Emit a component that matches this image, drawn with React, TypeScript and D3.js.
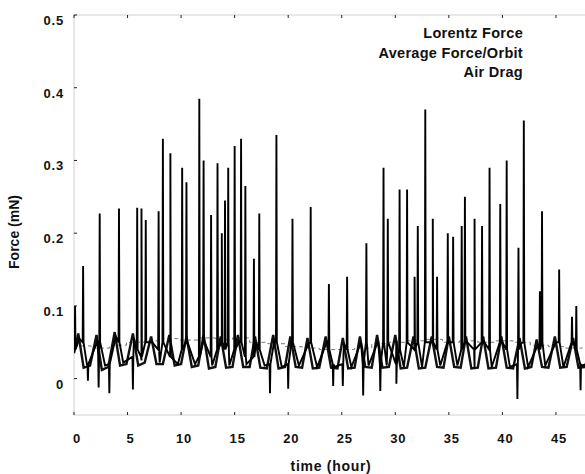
import React from "react";
import * as d3 from "d3";

// ---- axis ticks ----
const hourTicks = [0, 5, 10, 15, 20, 25, 30, 35, 40, 45];
const forceTicks = [0, 0.1, 0.2, 0.3, 0.4, 0.5];

// ---- legend ----
const seriesNames = ["Lorentz Force", "Average Force/Orbit", "Air Drag"];

// ---- Air drag: orbit oscillation [hour, mN] ----
const airDrag: [number, number][] = [
  [0.0, 0.035], [0.4, 0.062], [0.9, 0.015], [1.5, 0.018], [2.1, 0.06], [2.6, 0.012],
  [3.2, 0.016], [3.8, 0.064], [4.3, 0.018], [4.9, 0.02], [5.5, 0.062], [6.0, 0.018],
  [6.6, 0.022], [7.2, 0.058], [7.7, 0.02], [8.3, 0.02], [8.9, 0.06], [9.4, 0.018],
  [10.0, 0.02], [10.5, 0.058], [11.0, 0.016], [11.6, 0.018], [12.1, 0.06], [12.6, 0.014],
  [13.2, 0.016], [13.7, 0.058], [14.2, 0.015], [14.8, 0.016], [15.3, 0.06], [15.8, 0.016],
  [16.4, 0.016], [16.9, 0.058], [17.4, 0.015], [18.0, 0.014], [18.6, 0.06], [19.1, 0.014],
  [19.7, 0.016], [20.2, 0.058], [20.7, 0.016], [21.3, 0.015], [21.8, 0.056], [22.3, 0.014],
  [22.9, 0.015], [23.5, 0.058], [24.0, 0.015], [24.6, 0.014], [25.1, 0.056], [25.6, 0.014],
  [26.2, 0.015], [26.7, 0.058], [27.2, 0.016], [27.8, 0.015], [28.3, 0.06], [28.8, 0.015],
  [29.4, 0.016], [30.0, 0.06], [30.5, 0.014], [31.1, 0.015], [31.7, 0.058], [32.2, 0.014],
  [32.8, 0.015], [33.4, 0.058], [33.9, 0.016], [34.5, 0.015], [35.0, 0.058], [35.5, 0.016],
  [36.1, 0.015], [36.6, 0.058], [37.1, 0.014], [37.7, 0.015], [38.2, 0.058], [38.7, 0.014],
  [39.4, 0.015], [39.9, 0.058], [40.4, 0.015], [41.0, 0.014], [41.6, 0.056], [42.1, 0.014],
  [42.7, 0.016], [43.2, 0.054], [43.7, 0.016], [44.3, 0.015], [44.9, 0.058], [45.4, 0.015],
  [46.0, 0.016], [46.6, 0.056], [47.1, 0.015], [47.7, 0.016], [48.0, 0.03],
];

// ---- Lorentz force: base oscillation [hour, mN] ----
const lorentzBase: [number, number][] = [
  [0.0, 0.04], [0.5, 0.055], [1.2, 0.02], [2.2, 0.052], [2.9, 0.018], [3.9, 0.058],
  [4.6, 0.022], [5.6, 0.055], [6.3, 0.025], [7.3, 0.05], [8.0, 0.022], [9.0, 0.052],
  [9.7, 0.02], [10.6, 0.05], [11.3, 0.02], [12.2, 0.05], [12.9, 0.018], [13.8, 0.052],
  [14.5, 0.018], [15.4, 0.05], [16.1, 0.02], [17.0, 0.05], [17.8, 0.018], [18.7, 0.052],
  [19.4, 0.016], [20.3, 0.05], [21.0, 0.018], [21.9, 0.048], [22.7, 0.016], [23.6, 0.05],
  [24.3, 0.016], [25.2, 0.048], [25.9, 0.016], [26.8, 0.05], [27.5, 0.018], [28.4, 0.052],
  [29.2, 0.018], [30.1, 0.052], [30.8, 0.016], [31.8, 0.05], [32.5, 0.016], [33.5, 0.05],
  [34.2, 0.018], [35.1, 0.05], [35.8, 0.018], [36.7, 0.05], [37.4, 0.016], [38.3, 0.05],
  [39.0, 0.016], [40.0, 0.05], [40.7, 0.016], [41.7, 0.048], [42.4, 0.016], [43.3, 0.046],
  [44.0, 0.018], [45.0, 0.05], [45.7, 0.016], [46.7, 0.048], [47.4, 0.018], [48.0, 0.02],
];

// ---- Lorentz force spikes [hour, foot mN, peak mN] ----
const lorentzSpikes: [number, number, number][] = [
  [0.1, 0.04, 0.1], [0.85, 0.05, 0.155], [1.3, 0.02, -0.003], [2.3, 0.03, -0.012],
  [2.4, 0.05, 0.227], [3.3, 0.02, -0.02], [4.2, 0.05, 0.234], [5.5, 0.03, -0.015],
  [5.9, 0.04, 0.235], [6.3, 0.03, 0.234], [6.7, 0.05, 0.218], [7.9, 0.04, 0.23],
  [8.3, 0.05, 0.33], [9.0, 0.03, 0.31], [10.1, 0.04, 0.29], [10.5, 0.05, 0.27],
  [11.7, 0.03, 0.385], [12.1, 0.05, 0.3], [12.8, 0.03, 0.225], [13.4, 0.04, 0.296],
  [13.8, 0.05, 0.2], [14.1, 0.04, 0.245], [14.4, 0.05, 0.29], [15.0, 0.04, 0.32],
  [15.6, 0.05, 0.33], [16.0, 0.03, 0.265], [16.8, 0.03, 0.165], [17.3, 0.04, 0.227],
  [18.3, 0.02, -0.02], [18.9, 0.05, 0.335], [20.0, 0.02, -0.014], [20.4, 0.05, 0.22],
  [22.1, 0.05, 0.236], [23.8, 0.04, 0.13], [24.2, 0.02, -0.01], [25.1, 0.02, -0.01],
  [25.5, 0.04, 0.14], [27.0, 0.02, -0.023], [27.3, 0.05, 0.186], [28.6, 0.02, -0.017],
  [28.9, 0.05, 0.29], [29.3, 0.05, 0.22], [30.1, 0.02, -0.007], [30.4, 0.04, 0.26],
  [31.1, 0.05, 0.26], [31.8, 0.04, 0.14], [32.1, 0.05, 0.21], [32.8, 0.05, 0.37],
  [33.5, 0.05, 0.22], [33.9, 0.04, 0.14], [34.9, 0.05, 0.2], [35.4, 0.05, 0.195],
  [36.2, 0.04, 0.21], [36.5, 0.05, 0.25], [37.4, 0.04, 0.22], [38.1, 0.05, 0.21],
  [38.8, 0.04, 0.29], [39.8, 0.05, 0.24], [40.4, 0.04, 0.3], [41.4, 0.02, -0.028],
  [41.5, 0.04, 0.18], [42.0, 0.05, 0.355], [43.5, 0.04, 0.12], [43.7, 0.05, 0.23],
  [45.3, 0.05, 0.15], [46.5, 0.05, 0.085], [46.9, 0.04, 0.1], [47.3, 0.02, -0.016],
];

// ---- Average force per orbit [orbit start hour, mN] ----
const avgPerOrbit: [number, number][] = [
  [0.0, 0.045], [1.6, 0.042], [3.3, 0.046], [4.9, 0.05], [6.6, 0.052], [8.3, 0.055],
  [9.9, 0.053], [11.6, 0.056], [13.2, 0.054], [14.8, 0.056], [16.4, 0.05], [18.1, 0.048],
  [19.7, 0.044], [21.3, 0.042], [22.9, 0.04], [24.6, 0.04], [26.2, 0.042], [27.8, 0.048],
  [29.4, 0.05], [31.1, 0.052], [32.8, 0.054], [34.4, 0.05], [36.0, 0.052], [37.7, 0.05],
  [39.3, 0.052], [41.0, 0.05], [42.6, 0.046], [44.3, 0.044], [45.9, 0.042], [47.5, 0.042],
];

const W = 585;
const H = 474;
const left = 74;
const top = 15;
const bottom = 415;
const font = "'Liberation Sans', Arial, Helvetica, sans-serif";

export default function App() {
  const x = d3.scaleLinear().domain([0, 48]).range([left, left + 48 * 10.71]);
  const y = d3.scaleLinear().domain([-0.05, 0.5]).range([bottom, top]);
  const right = Math.min(x(48), W + 2);

  const line = d3
    .line<[number, number]>()
    .x((d) => x(d[0]))
    .y((d) => y(d[1]));

  const lorentzPts: [number, number][] = [...lorentzBase];
  lorentzSpikes.forEach(([t, foot, peak]) => {
    lorentzPts.push([t - 0.04, foot], [t, peak], [t + 0.04, foot]);
  });
  lorentzPts.sort((a, b) => a[0] - b[0]);

  const stepLine = d3
    .line<[number, number]>()
    .x((d) => x(d[0]))
    .y((d) => y(d[1]))
    .curve(d3.curveStepAfter);

  return (
    <svg
      width={W}
      height={H}
      style={{ position: "absolute", left: 0, top: 0, background: "#fff" }}
    >
      <defs>
        <clipPath id="plot">
          <rect x={left} y={top} width={right - left} height={bottom - top} />
        </clipPath>
      </defs>

      {/* frame */}
      <rect
        x={left}
        y={top}
        width={right - left}
        height={bottom - top}
        fill="none"
        stroke="#c4c4c4"
        strokeWidth={0.8}
      />

      {/* ticks */}
      {hourTicks.map((t) => (
        <g key={"xt" + t}>
          <line x1={x(t)} x2={x(t)} y1={bottom} y2={bottom - 3} stroke="#222" strokeWidth={1} />
          <line x1={x(t)} x2={x(t)} y1={top} y2={top + 3} stroke="#222" strokeWidth={1} />
          <text
            x={x(t) + 3}
            y={443}
            textAnchor="middle"
            fontFamily={font}
            fontWeight="bold"
            fontSize={13}
            letterSpacing={0.8}
            fill="#111"
          >
            {t}
          </text>
        </g>
      ))}
      {forceTicks.map((v) => (
        <g key={"yt" + v}>
          <line x1={left} x2={left + 3} y1={y(v)} y2={y(v)} stroke="#222" strokeWidth={1} />
          <text
            x={64}
            y={y(v) + 10}
            textAnchor="end"
            fontFamily={font}
            fontWeight="bold"
            fontSize={13}
            letterSpacing={0.8}
            fill="#111"
          >
            {v === 0 ? "0" : String(v)}
          </text>
        </g>
      ))}

      {/* series */}
      <g clipPath="url(#plot)">
        <path
          d={stepLine(avgPerOrbit) || ""}
          fill="none"
          stroke="#777"
          strokeWidth={1}
          strokeDasharray="4 3"
        />
        <path d={line(airDrag) || ""} fill="none" stroke="#111" strokeWidth={2.4} />
        <path d={line(lorentzPts) || ""} fill="none" stroke="#000" strokeWidth={1.9} />
      </g>

      {/* legend */}
      {seriesNames.map((n, i) => (
        <text
          key={n}
          x={523}
          y={38 + i * 19.5}
          textAnchor="end"
          fontFamily={font}
          fontWeight="bold"
          fontSize={14.5}
          letterSpacing={0.3}
          fill="#111"
        >
          {n}
        </text>
      ))}

      {/* axis labels */}
      <text
        x={331}
        y={471}
        textAnchor="middle"
        fontFamily={font}
        fontWeight="bold"
        fontSize={14}
        letterSpacing={0.7}
        fill="#111"
      >
        time (hour)
      </text>
      <text
        transform="translate(19,232) rotate(-90)"
        textAnchor="middle"
        fontFamily={font}
        fontWeight="bold"
        fontSize={14}
        fill="#111"
      >
        Force (mN)
      </text>
    </svg>
  );
}
